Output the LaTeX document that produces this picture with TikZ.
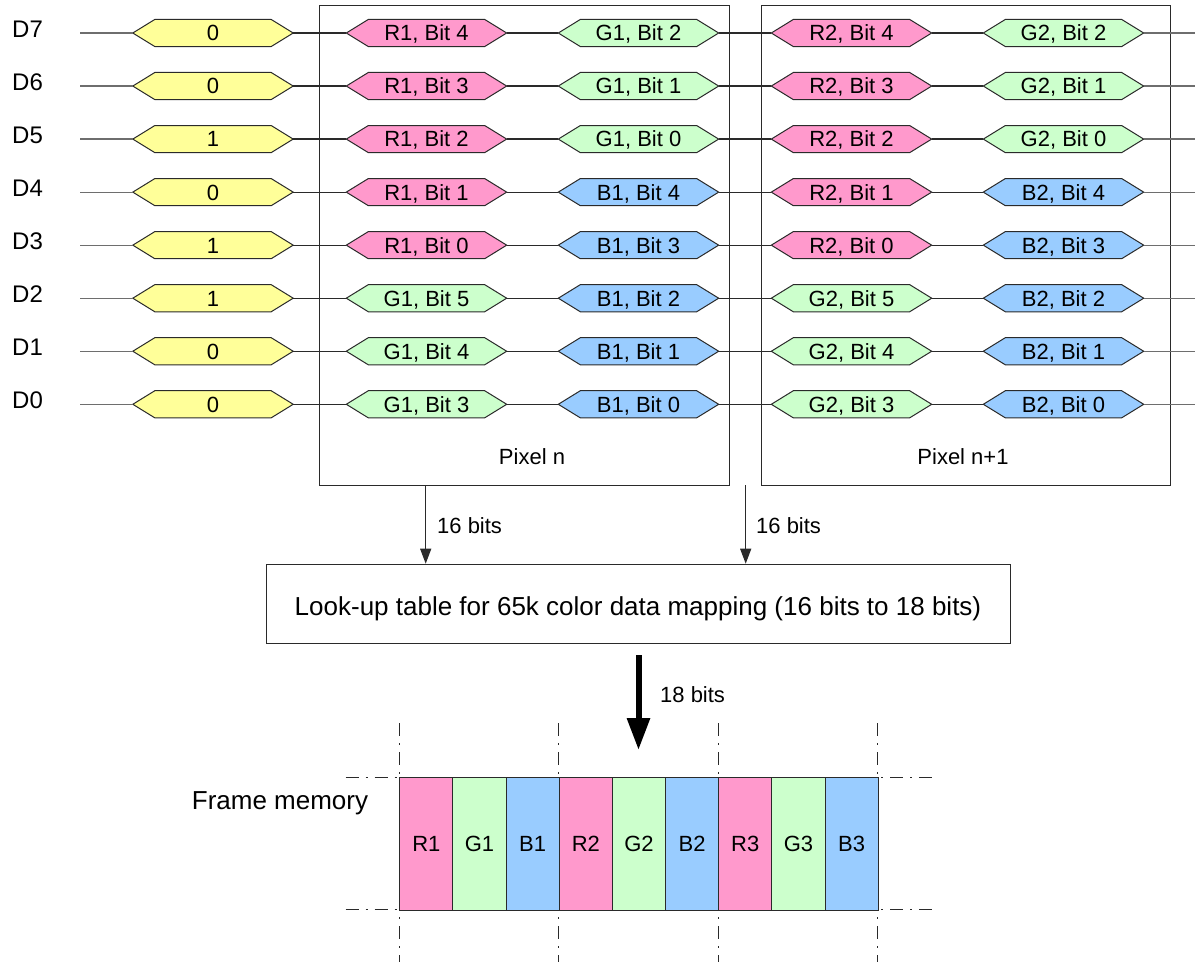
\documentclass[tikz,border=0pt]{standalone}
\usepackage{fontspec}
\setmainfont{Liberation Sans}
\usetikzlibrary{arrows.meta,calc}
\definecolor{cY}{HTML}{FFFF99}
\definecolor{cR}{HTML}{FF99CC}
\definecolor{cG}{HTML}{CCFFCC}
\definecolor{cB}{HTML}{99CCFF}
\definecolor{ln}{HTML}{2A2A2A}
\definecolor{lg}{HTML}{6E6E6E}
\tikzset{
  hexcore/.style={rectangle, inner sep=0pt, minimum width=116pt, minimum height=26.7pt},
  hexfill/.style={draw=ln, line width=1pt},
  txt/.style={inner sep=0pt, font=\fontsize{22}{24}\selectfont, text height=15.8pt, text depth=0pt},
  bigtxt/.style={inner sep=0pt, font=\fontsize{26}{28}\selectfont, text height=18.7pt, text depth=0pt},
  dtxt/.style={inner sep=0pt, font=\fontsize{24}{26}\selectfont, text height=17.2pt, text depth=0pt, anchor=west},
  wire/.style={draw=ln, line width=1.2pt},
  outwire/.style={draw=lg, line width=1.2pt},
  frame/.style={draw=ln, line width=1.2pt, inner sep=0pt},
  thinarrow/.style={draw=ln, line width=1.2pt, -{Triangle[length=15pt,width=11pt]}},
  thickarrow/.style={draw=black, line width=6pt, -{Triangle[length=32pt,width=22pt]}},
  dashdot/.style={draw=ln, line width=1pt, dash pattern=on 13pt off 7pt on 2pt off 7pt},
  cell/.style={draw=ln, line width=1pt, inner sep=0pt, minimum width=53.15pt, minimum height=132.7pt, anchor=north west}
}
\newcommand\hexn[5]{%
  \node[hexcore] (#1) at (#2,#3) {};
  \filldraw[hexfill, fill=#4] (#1.north east) -- ([xshift=22pt]#1.east) -- (#1.south east)
     -- (#1.south west) -- ([xshift=-22pt]#1.west) -- (#1.north west) -- cycle;
  \node[txt] (#1-t) at (#1) {#5};
  \coordinate (#1-l) at ([xshift=-22pt]#1.west);
  \coordinate (#1-r) at ([xshift=22pt]#1.east);
}
\begin{document}
\begin{tikzpicture}[x=1pt,y=-1pt]
\useasboundingbox (0,0) rectangle (1195,962);
% pixel boxes
\node[frame, anchor=north west, minimum width=410pt, minimum height=480pt] (pn) at (319,5) {};
\node[frame, anchor=north west, minimum width=409pt, minimum height=480pt] (pm) at (761,5) {};
\node[txt] (pnl) at (532,457) {Pixel n};
\node[txt] (pml) at (963,457) {Pixel n+1};
% rows
\foreach \i/\v/\ca/\la/\ba/\cb/\lb/\bb in {7/0/cR/R/4/cG/G/2, 6/0/cR/R/3/cG/G/1, 5/1/cR/R/2/cG/G/0, 4/0/cR/R/1/cB/B/4, 3/1/cR/R/0/cB/B/3, 2/1/cG/G/5/cB/B/2, 1/0/cG/G/4/cB/B/1, 0/0/cG/G/3/cB/B/0}{
  \pgfmathsetmacro\yy{33+53.04*(7-\i)}
  \node[dtxt] (d\i) at (12,\yy-4.5) {D\i};
  \coordinate (s\i) at (80,\yy);
  \coordinate (t\i) at (1195,\yy);
  \hexn{y\i}{213}{\yy}{cY}{\v}
  \hexn{a\i}{426.5}{\yy}{\ca}{\la1, Bit \ba}
  \hexn{b\i}{638.5}{\yy}{\cb}{\lb1, Bit \bb}
  \hexn{c\i}{851.5}{\yy}{\ca}{\la2, Bit \ba}
  \hexn{e\i}{1063.5}{\yy}{\cb}{\lb2, Bit \bb}
  \draw[outwire] (s\i) -- (y\i-l);
  \draw[wire] (y\i-r) -- (a\i-l);
  \draw[wire] (a\i-r) -- (b\i-l);
  \draw[wire] (b\i-r) -- (c\i-l);
  \draw[wire] (c\i-r) -- (e\i-l);
  \draw[outwire] (e\i-r) -- (t\i);
}
% LUT
\node[frame, minimum width=744pt, minimum height=79pt] (lut) at (638.8,603.8) {};
\node[bigtxt] (lutt) at (638,606) {Look-up table for 65k color data mapping (16 bits to 18 bits)};
\coordinate (a1) at (425.7,485);
\coordinate (a2) at (745.7,485);
\draw[thinarrow] (a1) -- (a1 |- lut.north);
\draw[thinarrow] (a2) -- (a2 |- lut.north);
\node[txt, anchor=west] (b16a) at (437,526) {16 bits};
\node[txt, anchor=west] (b16b) at (756,526) {16 bits};
% thick arrow
\coordinate (k1) at (638.5,655);
\coordinate (k2) at (638.5,750);
\draw[thickarrow] (k1) -- (k2);
\node[txt, anchor=west] (b18) at (660,695) {18 bits};
% frame memory guides
\foreach \xx [count=\n] in {399.3,558.8,718.2,877.7}{
  \coordinate (vt\n) at (\xx,723);
  \coordinate (vb\n) at (\xx,962);
  \draw[dashdot] (vt\n) -- (vb\n);
}
\coordinate (hl1) at (345.7,777);
\coordinate (hl2) at (345.7,909.7);
\coordinate (hr1) at (931.7,777);
\coordinate (hr2) at (931.7,909.7);
\draw[dashdot] (hl1) -- (vt1 |- hl1);
\draw[dashdot] (hl2) -- (vt1 |- hl2);
\draw[dashdot] (hr1) -- (vt4 |- hr1);
\draw[dashdot] (hr2) -- (vt4 |- hr2);
% cells
\foreach \lab/\col [count=\k from 0] in {R1/cR,G1/cG,B1/cB,R2/cR,G2/cG,B2/cB,R3/cR,G3/cG,B3/cB}{
  \node[cell, fill=\col] (m\k) at (399.3+53.15*\k,777) {};
  \node[txt] (m\k-t) at (m\k) {\lab};
}
\node[bigtxt, anchor=west] (fm) at (191.7,800) {Frame memory};
\end{tikzpicture}
\end{document}
